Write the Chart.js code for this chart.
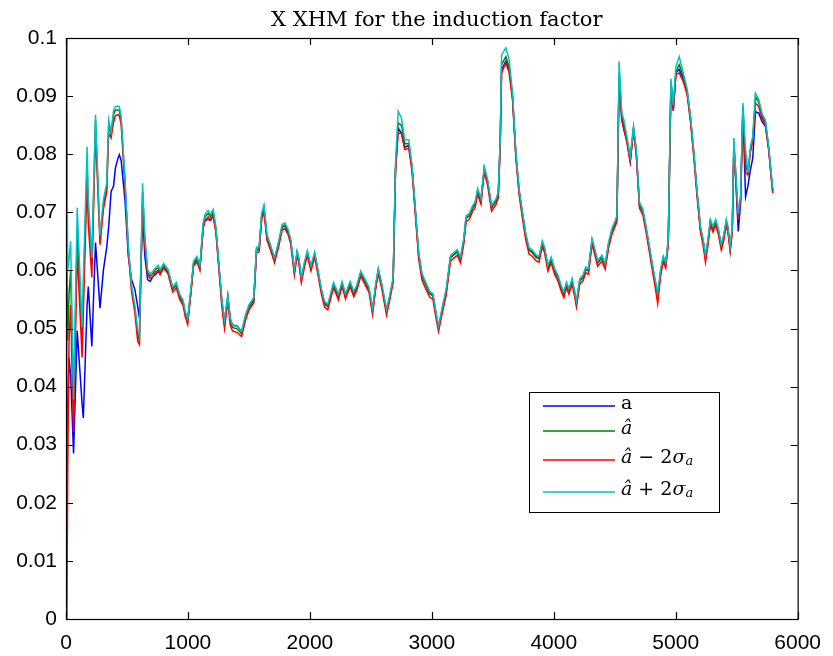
<!DOCTYPE html>
<html>
<head>
<meta charset="utf-8">
<style>
    html, body { margin: 0; padding: 0; background: #fff; }
    canvas { display: block; }
</style>
<script src="https://cdn.jsdelivr.net/npm/chart.js@4/dist/chart.umd.min.js"></script>
</head>
<body>
<canvas id="induction-chart" width="833" height="656"></canvas>
<script>
const chartTitle = 'X XHM for the induction factor';
const seriesLabels = ['a', 'â', 'â − 2σa', 'â + 2σa'];
const seriesColors = ['#0000ff', '#008000', '#ff0000', '#00c2c2'];
const xTicks = [0, 1000, 2000, 3000, 4000, 5000, 6000];
const yTicks = [0, 0.01, 0.02, 0.03, 0.04, 0.05, 0.06, 0.07, 0.08, 0.09, 0.1];

const sampleX = [
    0, 6, 14, 25, 38, 62, 92, 132, 142, 173,
    183, 212, 242, 279, 307, 334, 350, 370, 390, 405,
    425, 437, 452, 484, 511, 538, 565, 588, 602, 628,
    647, 669, 690, 715, 735, 756, 772, 800, 837, 875,
    905, 932, 960, 978, 998, 1022, 1046, 1074, 1098, 1125,
    1140, 1166, 1185, 1207, 1230, 1256, 1278, 1300, 1327, 1347,
    1365, 1405, 1440, 1473, 1501, 1540, 1562, 1584, 1604, 1624,
    1648, 1677, 1710, 1745, 1772, 1794, 1821, 1843, 1873, 1895,
    1908, 1930, 1957, 1979, 2009, 2039, 2066, 2093, 2120, 2147,
    2175, 2194, 2215, 2234, 2264, 2292, 2330, 2360, 2384, 2417,
    2452, 2485, 2514, 2539, 2561, 2588, 2629, 2656, 2683, 2702,
    2724, 2751, 2778, 2811, 2838, 2865, 2892, 2919, 2947, 2982,
    3009, 3036, 3055, 3083, 3118, 3153, 3186, 3208, 3235, 3262,
    3281, 3308, 3335, 3354, 3376, 3403, 3430, 3458, 3490, 3526,
    3545, 3561, 3572, 3607, 3634, 3662, 3689, 3716, 3743, 3770,
    3797, 3825, 3852, 3879, 3906, 3925, 3952, 3979, 4007, 4034,
    4061, 4083, 4104, 4124, 4151, 4170, 4186, 4213, 4240, 4262,
    4284, 4314, 4333, 4360, 4395, 4422, 4450, 4477, 4504, 4518,
    4536, 4558, 4575, 4600, 4627, 4654, 4676, 4703, 4730, 4757,
    4784, 4811, 4836, 4852, 4877, 4898, 4918, 4939, 4961, 4980,
    5002, 5029, 5062, 5094, 5121, 5149, 5176, 5203, 5225, 5244,
    5265, 5284, 5306, 5328, 5350, 5374, 5393, 5415, 5428, 5447,
    5464, 5477, 5496, 5513, 5532, 5551, 5573, 5592, 5613, 5632,
    5654, 5681, 5708, 5736, 5763, 5782, 5796
];

// a (true value)
const trueA = [
    0.0230, 0.0280, 0.0360, 0.0450, 0.0420, 0.0285, 0.0496, 0.0370, 0.0346, 0.0540,
    0.0572, 0.0469, 0.0648, 0.0535, 0.0601, 0.0640, 0.0675, 0.0736, 0.0745, 0.0776,
    0.0792, 0.0799, 0.0790, 0.0720, 0.0624, 0.0584, 0.0567, 0.0538, 0.0518, 0.0699,
    0.0624, 0.0584, 0.0581, 0.0590, 0.0593, 0.0598, 0.0594, 0.0605, 0.0598, 0.0568,
    0.0575, 0.0555, 0.0545, 0.0526, 0.0515, 0.0560, 0.0611, 0.0619, 0.0604, 0.0675,
    0.0686, 0.0688, 0.0686, 0.0695, 0.0668, 0.0602, 0.0547, 0.0512, 0.0556, 0.0517,
    0.0506, 0.0504, 0.0494, 0.0521, 0.0537, 0.0549, 0.0635, 0.0636, 0.0690, 0.0705,
    0.0657, 0.0640, 0.0618, 0.0647, 0.0674, 0.0677, 0.0666, 0.0650, 0.0598, 0.0630,
    0.0620, 0.0585, 0.0612, 0.0630, 0.0604, 0.0628, 0.0598, 0.0566, 0.0543, 0.0538,
    0.0560, 0.0575, 0.0565, 0.0554, 0.0577, 0.0556, 0.0577, 0.0560, 0.0570, 0.0595,
    0.0581, 0.0567, 0.0530, 0.0572, 0.0600, 0.0575, 0.0529, 0.0555, 0.0584, 0.0772,
    0.0845, 0.0836, 0.0812, 0.0815, 0.0775, 0.0702, 0.0628, 0.0592, 0.0578, 0.0561,
    0.0557, 0.0522, 0.0500, 0.0530, 0.0564, 0.0622, 0.0628, 0.0632, 0.0619, 0.0651,
    0.0690, 0.0694, 0.0708, 0.0713, 0.0737, 0.0720, 0.0775, 0.0752, 0.0708, 0.0719,
    0.0731, 0.0820, 0.0945, 0.0960, 0.0945, 0.0898, 0.0800, 0.0736, 0.0698, 0.0661,
    0.0636, 0.0631, 0.0624, 0.0621, 0.0647, 0.0636, 0.0605, 0.0619, 0.0599, 0.0588,
    0.0570, 0.0559, 0.0576, 0.0565, 0.0582, 0.0562, 0.0543, 0.0582, 0.0588, 0.0602,
    0.0599, 0.0651, 0.0636, 0.0613, 0.0622, 0.0608, 0.0645, 0.0668, 0.0682, 0.0690,
    0.0938, 0.0860, 0.0842, 0.0822, 0.0787, 0.0843, 0.0805, 0.0713, 0.0702, 0.0672,
    0.0638, 0.0604, 0.0574, 0.0552, 0.0598, 0.0621, 0.0610, 0.0650, 0.0920, 0.0875,
    0.0940, 0.0946, 0.0930, 0.0906, 0.0862, 0.0800, 0.0731, 0.0672, 0.0650, 0.0622,
    0.0650, 0.0684, 0.0672, 0.0684, 0.0668, 0.0641, 0.0656, 0.0684, 0.0672, 0.0638,
    0.0670, 0.0812, 0.0740, 0.0667, 0.0715, 0.0876, 0.0727, 0.0745, 0.0773, 0.0793,
    0.0873, 0.0871, 0.0856, 0.0848, 0.0808, 0.0765, 0.0737
];

// a hat (estimate)
const estA = [
    0.0870, 0.0600, 0.0480, 0.0560, 0.0600, 0.0357, 0.0670, 0.0480, 0.0560, 0.0779,
    0.0700, 0.0609, 0.0858, 0.0652, 0.0715, 0.0742, 0.0850, 0.0834, 0.0868, 0.0876,
    0.0876, 0.0875, 0.0860, 0.0752, 0.0638, 0.0569, 0.0534, 0.0490, 0.0480, 0.0735,
    0.0650, 0.0596, 0.0590, 0.0595, 0.0602, 0.0604, 0.0597, 0.0608, 0.0598, 0.0568,
    0.0575, 0.0555, 0.0545, 0.0525, 0.0513, 0.0560, 0.0612, 0.0620, 0.0605, 0.0678,
    0.0692, 0.0698, 0.0692, 0.0700, 0.0670, 0.0602, 0.0545, 0.0508, 0.0553, 0.0513,
    0.0502, 0.0499, 0.0491, 0.0520, 0.0537, 0.0549, 0.0636, 0.0637, 0.0693, 0.0708,
    0.0658, 0.0640, 0.0618, 0.0647, 0.0675, 0.0678, 0.0667, 0.0650, 0.0598, 0.0630,
    0.0620, 0.0585, 0.0612, 0.0630, 0.0604, 0.0628, 0.0598, 0.0566, 0.0543, 0.0538,
    0.0560, 0.0575, 0.0565, 0.0555, 0.0577, 0.0556, 0.0577, 0.0560, 0.0570, 0.0595,
    0.0581, 0.0567, 0.0530, 0.0572, 0.0600, 0.0575, 0.0529, 0.0555, 0.0584, 0.0775,
    0.0854, 0.0850, 0.0818, 0.0818, 0.0776, 0.0702, 0.0627, 0.0590, 0.0577, 0.0560,
    0.0556, 0.0522, 0.0500, 0.0530, 0.0564, 0.0622, 0.0628, 0.0632, 0.0619, 0.0651,
    0.0690, 0.0694, 0.0708, 0.0713, 0.0737, 0.0720, 0.0775, 0.0752, 0.0708, 0.0719,
    0.0731, 0.0822, 0.0954, 0.0968, 0.0950, 0.0900, 0.0800, 0.0736, 0.0697, 0.0660,
    0.0635, 0.0630, 0.0623, 0.0620, 0.0647, 0.0636, 0.0605, 0.0619, 0.0599, 0.0588,
    0.0570, 0.0559, 0.0576, 0.0565, 0.0582, 0.0562, 0.0543, 0.0582, 0.0588, 0.0602,
    0.0599, 0.0651, 0.0636, 0.0613, 0.0622, 0.0608, 0.0645, 0.0668, 0.0682, 0.0690,
    0.0940, 0.0866, 0.0852, 0.0826, 0.0792, 0.0845, 0.0806, 0.0713, 0.0702, 0.0672,
    0.0638, 0.0604, 0.0574, 0.0551, 0.0598, 0.0621, 0.0610, 0.0650, 0.0925, 0.0880,
    0.0943, 0.0954, 0.0935, 0.0908, 0.0862, 0.0800, 0.0731, 0.0672, 0.0650, 0.0622,
    0.0650, 0.0684, 0.0672, 0.0684, 0.0668, 0.0641, 0.0656, 0.0684, 0.0672, 0.0638,
    0.0672, 0.0822, 0.0752, 0.0694, 0.0724, 0.0882, 0.0785, 0.0766, 0.0808, 0.0827,
    0.0899, 0.0889, 0.0866, 0.0855, 0.0810, 0.0766, 0.0737
];

// a hat - 2 sigma
const lowerA = [
    0.1050, -0.0050, 0.0250, 0.0480, 0.0540, 0.0322, 0.0633, 0.0450, 0.0525, 0.0762,
    0.0680, 0.0588, 0.0840, 0.0644, 0.0705, 0.0735, 0.0836, 0.0828, 0.0855, 0.0866,
    0.0868, 0.0866, 0.0852, 0.0745, 0.0632, 0.0563, 0.0527, 0.0478, 0.0472, 0.0716,
    0.0642, 0.0592, 0.0586, 0.0590, 0.0597, 0.0600, 0.0593, 0.0604, 0.0594, 0.0563,
    0.0570, 0.0550, 0.0540, 0.0520, 0.0507, 0.0555, 0.0607, 0.0615, 0.0600, 0.0672,
    0.0686, 0.0692, 0.0687, 0.0694, 0.0664, 0.0596, 0.0538, 0.0500, 0.0547, 0.0506,
    0.0496, 0.0493, 0.0486, 0.0515, 0.0532, 0.0544, 0.0630, 0.0632, 0.0687, 0.0700,
    0.0652, 0.0635, 0.0613, 0.0642, 0.0669, 0.0672, 0.0662, 0.0645, 0.0592, 0.0625,
    0.0615, 0.0579, 0.0607, 0.0625, 0.0599, 0.0623, 0.0593, 0.0561, 0.0537, 0.0532,
    0.0555, 0.0570, 0.0560, 0.0549, 0.0572, 0.0551, 0.0572, 0.0555, 0.0565, 0.0590,
    0.0576, 0.0562, 0.0524, 0.0567, 0.0595, 0.0570, 0.0523, 0.0550, 0.0579, 0.0768,
    0.0836, 0.0836, 0.0808, 0.0810, 0.0770, 0.0696, 0.0620, 0.0584, 0.0570, 0.0554,
    0.0550, 0.0516, 0.0495, 0.0524, 0.0558, 0.0616, 0.0622, 0.0626, 0.0613, 0.0645,
    0.0684, 0.0688, 0.0702, 0.0707, 0.0731, 0.0714, 0.0769, 0.0746, 0.0702, 0.0713,
    0.0725, 0.0815, 0.0940, 0.0957, 0.0940, 0.0893, 0.0794, 0.0730, 0.0690, 0.0653,
    0.0628, 0.0624, 0.0617, 0.0614, 0.0641, 0.0630, 0.0599, 0.0613, 0.0593, 0.0582,
    0.0564, 0.0553, 0.0570, 0.0559, 0.0576, 0.0556, 0.0537, 0.0576, 0.0582, 0.0596,
    0.0593, 0.0645, 0.0630, 0.0607, 0.0616, 0.0602, 0.0639, 0.0662, 0.0676, 0.0684,
    0.0922, 0.0858, 0.0845, 0.0820, 0.0787, 0.0840, 0.0800, 0.0707, 0.0696, 0.0666,
    0.0632, 0.0597, 0.0566, 0.0543, 0.0592, 0.0615, 0.0604, 0.0644, 0.0918, 0.0875,
    0.0937, 0.0940, 0.0925, 0.0902, 0.0856, 0.0794, 0.0725, 0.0666, 0.0643, 0.0614,
    0.0644, 0.0678, 0.0666, 0.0678, 0.0662, 0.0635, 0.0650, 0.0678, 0.0666, 0.0632,
    0.0666, 0.0815, 0.0746, 0.0687, 0.0718, 0.0876, 0.0768, 0.0765, 0.0804, 0.0822,
    0.0888, 0.0882, 0.0862, 0.0851, 0.0807, 0.0762, 0.0733
];

// a hat + 2 sigma
const upperA = [
    0.1050, 0.0870, 0.0600, 0.0620, 0.0650, 0.0378, 0.0708, 0.0502, 0.0585, 0.0813,
    0.0722, 0.0622, 0.0868, 0.0660, 0.0722, 0.0750, 0.0859, 0.0839, 0.0875, 0.0882,
    0.0883, 0.0882, 0.0866, 0.0757, 0.0642, 0.0573, 0.0539, 0.0498, 0.0487, 0.0750,
    0.0658, 0.0601, 0.0594, 0.0599, 0.0605, 0.0609, 0.0601, 0.0612, 0.0602, 0.0572,
    0.0579, 0.0559, 0.0549, 0.0529, 0.0517, 0.0564, 0.0616, 0.0624, 0.0609, 0.0682,
    0.0697, 0.0703, 0.0697, 0.0705, 0.0674, 0.0606, 0.0550, 0.0515, 0.0557, 0.0518,
    0.0506, 0.0503, 0.0495, 0.0524, 0.0541, 0.0553, 0.0640, 0.0641, 0.0698, 0.0713,
    0.0662, 0.0644, 0.0622, 0.0651, 0.0679, 0.0682, 0.0671, 0.0654, 0.0602, 0.0634,
    0.0624, 0.0589, 0.0616, 0.0634, 0.0608, 0.0632, 0.0602, 0.0570, 0.0547, 0.0542,
    0.0564, 0.0579, 0.0569, 0.0559, 0.0581, 0.0560, 0.0581, 0.0564, 0.0574, 0.0599,
    0.0585, 0.0571, 0.0534, 0.0576, 0.0604, 0.0579, 0.0533, 0.0559, 0.0588, 0.0782,
    0.0874, 0.0862, 0.0825, 0.0825, 0.0781, 0.0707, 0.0632, 0.0595, 0.0581, 0.0564,
    0.0560, 0.0526, 0.0504, 0.0534, 0.0568, 0.0626, 0.0632, 0.0636, 0.0623, 0.0655,
    0.0694, 0.0698, 0.0712, 0.0717, 0.0741, 0.0724, 0.0779, 0.0756, 0.0712, 0.0723,
    0.0735, 0.0828, 0.0971, 0.0983, 0.0963, 0.0905, 0.0804, 0.0740, 0.0701, 0.0664,
    0.0639, 0.0635, 0.0627, 0.0624, 0.0651, 0.0640, 0.0609, 0.0623, 0.0603, 0.0592,
    0.0574, 0.0563, 0.0580, 0.0569, 0.0586, 0.0566, 0.0547, 0.0586, 0.0592, 0.0606,
    0.0603, 0.0655, 0.0640, 0.0617, 0.0626, 0.0612, 0.0649, 0.0672, 0.0686, 0.0694,
    0.0960, 0.0871, 0.0859, 0.0830, 0.0796, 0.0848, 0.0810, 0.0717, 0.0706, 0.0676,
    0.0642, 0.0608, 0.0580, 0.0561, 0.0603, 0.0625, 0.0614, 0.0654, 0.0930, 0.0885,
    0.0951, 0.0968, 0.0940, 0.0912, 0.0866, 0.0804, 0.0735, 0.0676, 0.0654, 0.0627,
    0.0654, 0.0688, 0.0676, 0.0688, 0.0672, 0.0645, 0.0660, 0.0688, 0.0676, 0.0642,
    0.0676, 0.0828, 0.0756, 0.0698, 0.0728, 0.0888, 0.0808, 0.0768, 0.0813, 0.0831,
    0.0905, 0.0894, 0.0870, 0.0859, 0.0813, 0.0770, 0.0740
];

(function () {
    const serif = '"DejaVu Serif", "Liberation Serif", serif';
    const sans = '"Liberation Sans", Arial, sans-serif';

    // legend rows as pieces: [text, italic, size, baseline shift]
    const legendRows = [
        [['a', false, 19, 0]],
        [['â', true, 19, 0]],
        [['â', true, 19, 0], [' − 2', false, 19, 0], ['σ', true, 19, 0], ['a', true, 13, 4]],
        [['â', true, 19, 0], [' + 2', false, 19, 0], ['σ', true, 19, 0], ['a', true, 13, 4]]
    ];

    const toPoints = (values) => values.map((v, i) => ({ x: sampleX[i], y: v }));

    const drawPieces = (ctx, pieces, x, y) => {
        pieces.forEach(([text, italic, size, dy]) => {
            ctx.font = `${italic ? 'italic ' : ''}${size}px ${serif}`;
            ctx.fillText(text, x, y + dy);
            x += ctx.measureText(text).width;
        });
    };

    const matlabFrame = {
        id: 'matlabFrame',
        afterDraw(chart) {
            const { ctx, chartArea: area, scales } = chart;
            const tickLen = 7;
            ctx.save();
            ctx.strokeStyle = '#000';
            ctx.lineWidth = 1.2;
            ctx.beginPath();
            xTicks.forEach((v) => {
                const px = Math.round(scales.x.getPixelForValue(v)) + 0.5;
                ctx.moveTo(px, area.bottom);
                ctx.lineTo(px, area.bottom - tickLen);
                ctx.moveTo(px, area.top);
                ctx.lineTo(px, area.top + tickLen);
            });
            yTicks.forEach((v) => {
                const py = Math.round(scales.y.getPixelForValue(v)) + 0.5;
                ctx.moveTo(area.left, py);
                ctx.lineTo(area.left + tickLen, py);
                ctx.moveTo(area.right, py);
                ctx.lineTo(area.right - tickLen, py);
            });
            ctx.stroke();
            ctx.strokeRect(area.left + 0.5, area.top + 0.5, area.right - area.left, area.bottom - area.top);

            // title
            ctx.fillStyle = '#000';
            ctx.font = `21px ${serif}`;
            ctx.textAlign = 'center';
            ctx.textBaseline = 'alphabetic';
            ctx.fillText(chartTitle, (area.left + area.right) / 2 + 5, 26);

            // legend box
            const box = { left: 529.5, top: 392.5, width: 190, height: 120 };
            const rowY = [406, 431, 460, 492];
            ctx.fillStyle = '#fff';
            ctx.fillRect(box.left, box.top, box.width, box.height);
            ctx.lineWidth = 1;
            ctx.strokeRect(box.left, box.top, box.width, box.height);
            ctx.textAlign = 'left';
            ctx.textBaseline = 'middle';
            legendRows.forEach((pieces, i) => {
                ctx.strokeStyle = seriesColors[i];
                ctx.lineWidth = 1.5;
                ctx.beginPath();
                ctx.moveTo(543, rowY[i]);
                ctx.lineTo(615, rowY[i]);
                ctx.stroke();
                ctx.fillStyle = '#000';
                drawPieces(ctx, pieces, 621, rowY[i] - 2);
            });
            ctx.restore();
        }
    };

    const series = [trueA, estA, lowerA, upperA];
    const ctx = document.getElementById('induction-chart').getContext('2d');

    new Chart(ctx, {
        type: 'line',
        data: {
            datasets: series.map((values, i) => ({
                label: seriesLabels[i],
                data: toPoints(values),
                borderColor: seriesColors[i],
                borderWidth: 1.5,
                pointRadius: 0,
                tension: 0,
                fill: false,
                order: series.length - 1 - i
            }))
        },
        options: {
            responsive: false,
            animation: false,
            devicePixelRatio: 1,
            layout: { padding: { left: 0, right: 31, top: 38, bottom: 0 } },
            plugins: {
                legend: { display: false },
                title: { display: false },
                tooltip: { enabled: false }
            },
            scales: {
                x: {
                    type: 'linear',
                    min: 0,
                    max: 6000,
                    afterBuildTicks: (scale) => { scale.ticks = xTicks.map((v) => ({ value: v })); },
                    afterFit: (scale) => { scale.height = 37; },
                    grid: { display: false, drawTicks: false },
                    border: { display: false },
                    ticks: {
                        color: '#000',
                        font: { family: sans, size: 21 },
                        padding: 12,
                        maxRotation: 0,
                        autoSkip: false,
                        callback: (v) => String(v)
                    }
                },
                y: {
                    type: 'linear',
                    min: 0,
                    max: 0.1,
                    afterBuildTicks: (scale) => { scale.ticks = yTicks.map((v) => ({ value: v })); },
                    afterFit: (scale) => { scale.width = 66; },
                    grid: { display: false, drawTicks: false },
                    border: { display: false },
                    ticks: {
                        color: '#000',
                        font: { family: sans, size: 21 },
                        padding: 9,
                        autoSkip: false,
                        callback: (v) => String(v)
                    }
                }
            }
        },
        plugins: [matlabFrame]
    });
})();
</script>
</body>
</html>
